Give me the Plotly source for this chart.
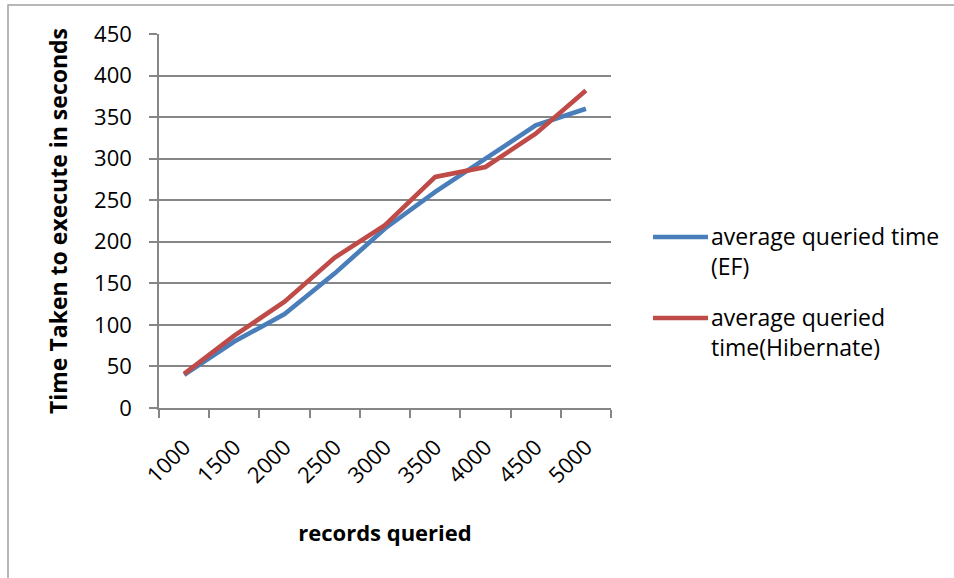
import plotly.graph_objects as go

# Records queried per run (category axis)
records = ["1000", "1500", "2000", "2500", "3000", "3500", "4000", "4500", "5000"]

# Average query time in seconds for each framework
ef_times = [40, 80, 113, 162, 216, 260, 300, 340, 360]
hibernate_times = [41, 87, 128, 181, 220, 278, 290, 330, 382]

series_names = ["average queried time<br>(EF)", "average queried<br>time(Hibernate)"]
series_colors = ["#4A7EBB", "#BE4B48"]

W, H = 954, 578
L, R, T, B = 159, 343, 34, 170
plot_w = W - L - R
plot_h = H - T - B

grid_color = "#868686"
font_family = "Open Sans, Calibri, Carlito, sans-serif"

fig = go.Figure()
for name, vals, color in zip(series_names, [ef_times, hibernate_times], series_colors):
    fig.add_trace(go.Scatter(
        x=records, y=vals, mode="lines", name=name,
        line=dict(color=color, width=4.6),
        showlegend=False,
    ))

# Legend drawn as line swatches with wrapped labels to the right of the plot
def px_x(px):
    return (px - L) / plot_w

def px_y(py):
    return (H - B - py) / plot_h

legend_rows = [237, 318]
shapes = []
annotations = []
for row_y, name, color in zip(legend_rows, series_names, series_colors):
    shapes.append(dict(
        type="line", xref="paper", yref="paper",
        x0=px_x(653), x1=px_x(708), y0=px_y(row_y), y1=px_y(row_y),
        line=dict(color=color, width=4.6),
    ))
    annotations.append(dict(
        xref="paper", yref="paper", x=px_x(709), y=px_y(row_y - 19),
        xanchor="left", yanchor="top", align="left", showarrow=False,
        text=name, font=dict(family=font_family, size=23, color="#000000"),
    ))

# Outer chart frame
shapes.append(dict(
    type="rect", xref="paper", yref="paper",
    x0=px_x(8), x1=px_x(W + 20), y0=px_y(H + 20), y1=px_y(5),
    line=dict(color="#A0A0A0", width=1.5), fillcolor="rgba(0,0,0,0)",
    layer="below",
))

fig.update_layout(
    width=W, height=H,
    margin=dict(l=L, r=R, t=T, b=B, autoexpand=False),
    paper_bgcolor="white", plot_bgcolor="white",
    font=dict(family=font_family, size=22, color="#000000"),
    shapes=shapes, annotations=annotations,
    showlegend=False,
    xaxis=dict(
        type="category", range=[-0.5, len(records) - 0.5],
        tickson="boundaries", ticks="outside", ticklen=8, tickwidth=1.5,
        tickcolor=grid_color, showline=True, linecolor=grid_color, linewidth=1.5,
        showgrid=False, tickangle=-45, ticklabelstandoff=16,
        tickfont=dict(family=font_family, size=22),
        title=dict(text="<b>records queried</b>", standoff=38,
                   font=dict(family=font_family, size=22)),
        automargin=False, zeroline=False,
    ),
    yaxis=dict(
        range=[0, 450], dtick=50, tick0=0,
        showgrid=True, gridcolor=grid_color, gridwidth=1.5,
        ticks="outside", ticklen=8, tickwidth=1.5, tickcolor=grid_color,
        showline=True, linecolor=grid_color, linewidth=1.5,
        ticklabelstandoff=13,
        tickfont=dict(family=font_family, size=22),
        title=dict(text="<b>Time Taken to execute in seconds</b>", standoff=20,
                   font=dict(family=font_family, size=23)),
        automargin=False, zeroline=False,
    ),
)

fig.write_html("out.html")
